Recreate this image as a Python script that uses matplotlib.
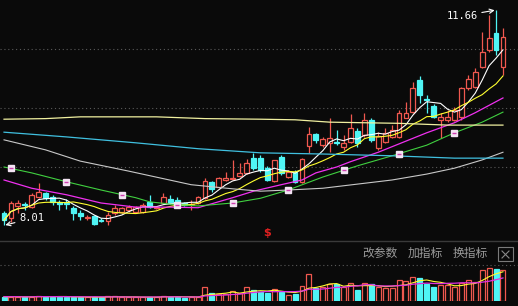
import numpy as np
import pandas as pd
import matplotlib
matplotlib.use('Agg')
import matplotlib.pyplot as plt
from matplotlib.lines import Line2D
from matplotlib.patches import Rectangle

# daily candles (price)
opens = [8.22, 8.14, 8.34, 8.37, 8.32, 8.49, 8.56, 8.49, 8.41, 8.39,
         8.31, 8.22, 8.14, 8.17, 8.11, 8.08, 8.22, 8.24, 8.27, 8.24,
         8.24, 8.41, 8.31, 8.39, 8.46, 8.44, 8.39, 8.36, 8.39, 8.47,
         8.75, 8.66, 8.78, 8.80, 8.85, 8.90, 9.15, 9.15, 8.98, 8.76,
         9.17, 8.83, 8.92, 8.75, 9.36, 9.56, 9.37, 9.41, 9.42, 9.34,
         9.42, 9.61, 9.54, 9.80, 9.32, 9.42, 9.51, 9.51, 9.83, 9.93,
         10.47, 10.15, 10.03, 9.80, 9.80, 9.80, 9.85, 10.34, 10.36, 10.69,
         10.98, 11.27, 10.69]
highs = [8.25, 8.42, 8.44, 8.41, 8.56, 8.73, 8.58, 8.53, 8.44, 8.46,
         8.34, 8.27, 8.19, 8.19, 8.14, 8.24, 8.36, 8.32, 8.36, 8.34,
         8.39, 8.53, 8.34, 8.56, 8.53, 8.49, 8.41, 8.44, 8.51, 8.81,
         8.76, 8.83, 8.92, 9.12, 9.07, 9.14, 9.24, 9.20, 9.02, 9.12,
         9.20, 8.95, 8.95, 9.15, 9.68, 9.58, 9.51, 9.83, 9.63, 9.54,
         9.90, 9.66, 9.92, 9.83, 9.59, 9.66, 9.71, 9.97, 10.10, 10.44,
         10.54, 10.22, 10.07, 9.92, 9.97, 10.02, 10.36, 10.56, 10.68, 11.29,
         11.58, 11.66, 11.36]
lows = [8.01, 8.07, 8.22, 8.27, 8.31, 8.47, 8.44, 8.36, 8.27, 8.29,
        8.10, 8.10, 8.10, 8.02, 8.06, 8.02, 8.19, 8.22, 8.24, 8.22,
        8.22, 8.31, 8.29, 8.37, 8.37, 8.32, 8.34, 8.27, 8.37, 8.46,
        8.58, 8.64, 8.76, 8.78, 8.83, 8.88, 8.95, 8.92, 8.76, 8.75,
        8.86, 8.81, 8.73, 8.73, 9.24, 9.41, 9.34, 9.25, 9.37, 9.29,
        9.41, 9.34, 9.51, 9.42, 9.29, 9.41, 9.49, 9.49, 9.83, 9.92,
        10.08, 9.92, 9.83, 9.49, 9.76, 9.78, 9.80, 10.31, 10.34, 10.68,
        10.95, 10.90, 10.56]
closes = [8.10, 8.39, 8.39, 8.35, 8.53, 8.58, 8.47, 8.41, 8.37, 8.37,
          8.22, 8.17, 8.15, 8.03, 8.09, 8.19, 8.31, 8.31, 8.32, 8.32,
          8.36, 8.32, 8.32, 8.49, 8.39, 8.39, 8.36, 8.38, 8.49, 8.76,
          8.63, 8.81, 8.81, 8.81, 8.90, 9.07, 8.98, 8.95, 8.78, 9.12,
          8.90, 8.92, 8.75, 9.14, 9.56, 9.46, 9.47, 9.49, 9.40, 9.41,
          9.66, 9.41, 9.80, 9.46, 9.53, 9.58, 9.63, 9.92, 9.92, 10.34,
          10.22, 10.13, 9.85, 9.85, 9.85, 9.97, 10.34, 10.49, 10.61, 10.95,
          11.19, 10.98, 11.20]
volume = [4.3, 4.3, 4.3, 3.7, 4.3, 5.3, 4.3, 4.3, 4.3, 4.3,
          3.7, 3.7, 3.7, 4.3, 3.7, 4.7, 4.7, 3.7, 3.7, 3.7,
          3.7, 4.3, 3.7, 5.3, 4.3, 4.3, 3.3, 4.0, 4.0, 13.7,
          7.7, 6.7, 7.0, 10.0, 7.7, 13.7, 10.7, 9.3, 8.3, 11.7,
          9.3, 6.0, 7.0, 15.0, 27.0, 12.7, 13.7, 17.0, 16.7, 13.7,
          17.7, 11.0, 17.7, 16.7, 13.7, 12.7, 13.3, 21.0, 20.3, 23.7,
          23.3, 16.7, 13.7, 16.0, 16.0, 13.7, 17.7, 21.0, 19.3, 31.0,
          32.7, 32.0, 31.0]

# longer moving averages, read at a few candles
ma20_idx = [0, 4, 9, 14, 19, 24, 28, 33, 36, 40, 43, 45, 48, 50, 54, 61, 65, 68, 72]
ma20_val = [8.78, 8.64, 8.53, 8.39, 8.32, 8.32, 8.31, 8.48, 8.59, 8.70,
            8.78, 8.90, 9.00, 9.09, 9.25, 9.58, 9.75, 9.92, 10.17]
ma30_idx = [0, 4, 9, 14, 19, 21, 24, 28, 33, 37, 41, 46, 51, 56, 61, 65, 69, 72]
ma30_val = [9.00, 8.90, 8.75, 8.61, 8.48, 8.41, 8.37, 8.34, 8.39, 8.47,
            8.61, 8.83, 9.02, 9.19, 9.37, 9.58, 9.76, 9.93]
ma60_idx = [0, 6, 11, 18, 27, 33, 37, 41, 46, 51, 56, 61, 65, 69, 72]
ma60_val = [9.46, 9.29, 9.10, 8.93, 8.70, 8.63, 8.59, 8.61, 8.64, 8.71,
            8.78, 8.88, 8.98, 9.12, 9.25]
ma120_idx = [0, 9, 19, 28, 37, 46, 56, 65, 72]
ma120_val = [9.59, 9.51, 9.41, 9.31, 9.24, 9.22, 9.19, 9.15, 9.15]
ma250_idx = [0, 6, 11, 22, 29, 37, 42, 47, 57, 64, 72]
ma250_val = [9.81, 9.82, 9.85, 9.85, 9.82, 9.81, 9.80, 9.76, 9.74, 9.71, 9.71]
marker_idx = [1, 9, 17, 25, 33, 41, 49, 57, 65]

BG = '#0a0a0a'
RED = '#f0584f'
CYAN = '#4ff5f5'

opens = np.array(opens)
closes = np.array(closes)
x = np.arange(len(opens))
up = closes >= opens
col = [RED if u else CYAN for u in up]
face = [BG if u else CYAN for u in up]

fig = plt.figure(figsize=(5.18, 3.06), dpi=100, facecolor=BG)
ax = fig.add_axes([0, 65 / 306, 1, 241 / 306])
axv = fig.add_axes([0, 5 / 306, 1, 60 / 306])
for a in (ax, axv):
    a.set_facecolor(BG)
    a.set_xticks([])
    a.set_yticks([])
    for s in a.spines.values():
        s.set_visible(False)
    a.set_xlim(-0.58, 74.17)

ax.set_ylim(7.746, 11.83)
axv.set_ylim(0, 60)

for g in [9, 10, 11]:
    ax.axhline(g, color='#5a5a5a', lw=0.8, ls=(0, (1, 2.5)), zorder=0)
axv.axhline(36, color='#5a5a5a', lw=0.8, ls=(0, (1, 2.5)), zorder=0)

# candles
ax.vlines(x, lows, highs, colors=col, lw=0.9, zorder=2)
bottoms = np.minimum(opens, closes)
heights = np.maximum(np.abs(closes - opens), 0.008)
ax.bar(x, heights, bottom=bottoms, width=0.7, color=face, edgecolor=col,
       linewidth=0.9, zorder=3)

# moving averages
cs = pd.Series(closes)
ax.plot(x, cs.rolling(5, min_periods=1).mean(), color='white', lw=0.8, zorder=4)
ax.plot(x, cs.rolling(10, min_periods=1).mean(), color='#ffff30', lw=0.8, zorder=4)
ax.plot(ma20_idx, ma20_val, color='#f030f0', lw=0.9, zorder=4)
ax.plot(ma30_idx, ma30_val, color='#40d040', lw=0.8, zorder=4)
ax.plot(ma60_idx, ma60_val, color='#c8c8c8', lw=0.8, zorder=4)
ax.plot(ma120_idx, ma120_val, color='#40c0e0', lw=0.9, zorder=4)
ax.plot(ma250_idx, ma250_val, color='#f0f0a0', lw=0.9, zorder=4)

my = np.interp(marker_idx, ma30_idx, ma30_val)
ax.plot(marker_idx, my, ls='none', marker='s', ms=4.5, mfc='#f4e4f4',
        mec='#f4e4f4', zorder=5)
ax.plot(marker_idx, my, ls='none', marker='_', ms=3.5, mec='#d040b0',
        mew=1.0, zorder=6)

ax.annotate('11.66', xy=(71, 11.66), xytext=(66.1, 11.56), color='white',
            fontsize=7.5, family='DejaVu Sans Mono', ha='center', va='center',
            arrowprops=dict(arrowstyle='->', color='white', lw=0.8,
                            shrinkA=1, shrinkB=1), zorder=7)
ax.annotate('8.01', xy=(0, 8.01), xytext=(3.97, 8.13), color='white',
            fontsize=7.5, family='DejaVu Sans Mono', ha='center', va='center',
            arrowprops=dict(arrowstyle='->', color='white', lw=0.8,
                            shrinkA=1, shrinkB=1), zorder=7)

# volume
vs = pd.Series(volume)
axv.bar(x, volume, width=0.72, color=face, edgecolor=col, linewidth=0.9, zorder=2)
axv.plot(x, vs.rolling(5, min_periods=1).mean(), color='#ffff30', lw=0.8, zorder=3)
axv.plot(x, vs.rolling(10, min_periods=1).mean(), color='#e030e0', lw=0.9, zorder=3)

# panel separator, buttons, markers
fig.add_artist(Line2D([0, 1], [1 - 241 / 306] * 2, color='#3a3a3a', lw=1.0))
cjk = ['Noto Sans CJK SC', 'DejaVu Sans']
for label, px in [('改参数', 380), ('加指标', 425), ('换指标', 470.5)]:
    fig.text(px / 518, 1 - 253 / 306, label, color='#9a9a9a', fontsize=8.5,
             ha='center', va='center', family=cjk)
fig.add_artist(Rectangle((498 / 518, 1 - 261 / 306), 15 / 518, 14 / 306,
                         transform=fig.transFigure, fill=False,
                         edgecolor='#7a7a7a', lw=0.8))
fig.add_artist(Line2D([502 / 518, 509 / 518], [1 - 251 / 306, 1 - 258 / 306],
                      color='#8a8a8a', lw=0.8))
fig.add_artist(Line2D([502 / 518, 509 / 518], [1 - 258 / 306, 1 - 251 / 306],
                      color='#8a8a8a', lw=0.8))
fig.text(267 / 518, 1 - 233 / 306, '$', color='#e02020', fontsize=8,
         ha='center', va='center', fontweight='bold')

fig.savefig('out.png', dpi=100, facecolor=BG)
